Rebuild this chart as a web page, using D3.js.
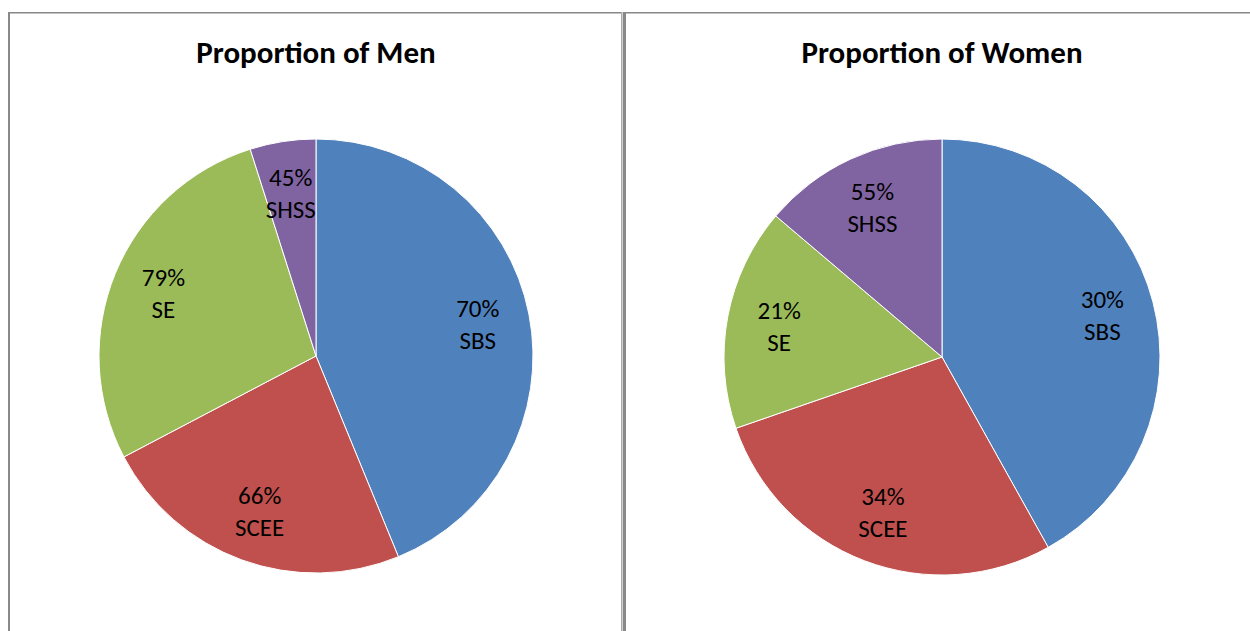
<!DOCTYPE html>
<html><head><meta charset="utf-8">
<script src="https://cdn.jsdelivr.net/npm/d3@7/dist/d3.min.js"></script>
<style>
html,body{margin:0;padding:0;background:#fff;}
svg{display:block;}
text{font-family:Carlito, Calibri, Lato, "Liberation Sans", sans-serif;fill:#000;}
</style></head>
<body>
<svg id="chart" width="1250" height="631"></svg>
<script>
// ---- data ----
const categories = ["SBS", "SCEE", "SE", "SHSS"];
const colors = ["#4F81BD", "#C0504D", "#9BBB59", "#8064A2"];
// slice sizes (share of each gender's total, %)
const menShares = [43.8, 23.5, 27.8, 4.9];
const womenShares = [41.9, 27.8, 16.5, 13.8];
// data labels (share of each school that is men / women)
const menLabels = ["70%", "66%", "79%", "45%"];
const womenLabels = ["30%", "34%", "21%", "55%"];
const titles = ["Proportion of Men", "Proportion of Women"];

const svg = d3.select("#chart");

// frame
svg.append("rect").attr("x", 8).attr("y", 12).attr("width", 1242).attr("height", 1.5).attr("fill", "#888");
svg.append("rect").attr("x", 8).attr("y", 12).attr("width", 2).attr("height", 619).attr("fill", "#888");
svg.append("rect").attr("x", 621).attr("y", 12).attr("width", 1).attr("height", 619).attr("fill", "#aaa");
svg.append("rect").attr("x", 622).attr("y", 12).attr("width", 1).attr("height", 619).attr("fill", "#d0d0d0");
svg.append("rect").attr("x", 623).attr("y", 12).attr("width", 3).attr("height", 619).attr("fill", "#888");

const panels = [
  {cx: 316, cy: 356, r: 217, shares: menShares, labels: menLabels, title: titles[0]},
  {cx: 942, cy: 357, r: 218, shares: womenShares, labels: womenLabels, title: titles[1]}
];

const pie = d3.pie().sort(null).value(d => d.v);

panels.forEach(p => {
  const data = categories.map((c, i) => ({cat: c, v: p.shares[i], lab: p.labels[i], col: colors[i]}));
  const arcs = pie(data);
  const arc = d3.arc().innerRadius(0).outerRadius(p.r);
  const labelArc = d3.arc().innerRadius(p.r * 0.76).outerRadius(p.r * 0.76);
  const g = svg.append("g").attr("transform", `translate(${p.cx},${p.cy})`);
  g.selectAll("path").data(arcs).join("path")
    .attr("d", arc)
    .attr("fill", d => d.data.col)
    .attr("stroke", "#fff")
    .attr("stroke-width", 1);
  const t = g.selectAll("text.lab").data(arcs).join("text")
    .attr("class", "lab")
    .attr("text-anchor", "middle")
    .attr("font-size", 25)
    .attr("transform", d => `translate(${labelArc.centroid(d)})`);
  t.append("tspan").attr("x", 0).attr("y", -7).text(d => d.data.lab);
  t.append("tspan").attr("x", 0).attr("y", 25).text(d => d.data.cat);

  svg.append("text")
    .attr("x", p.cx).attr("y", 63)
    .attr("text-anchor", "middle")
    .attr("font-size", 31)
    .attr("font-weight", "bold")
    .text(p.title);
});
</script>
</body></html>
